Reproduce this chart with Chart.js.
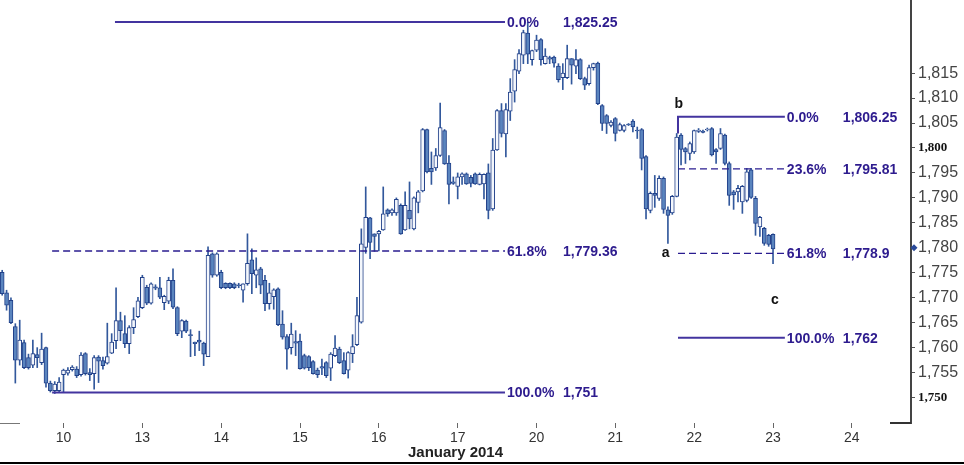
<!DOCTYPE html>
<html>
<head>
<meta charset="utf-8">
<script src="https://cdn.jsdelivr.net/npm/chart.js@4"></script>
<style>
html, body { margin: 0; padding: 0; background: #fff; }
#wrap { width: 964px; height: 465px; position: relative; }
</style>
</head>
<body>
<div id="wrap"><canvas id="chart-1"></canvas></div>
<script>
// S&P futures, hourly candles, January 2014
const dayLabels = ['10', '13', '14', '15', '16', '17', '20', '21', '22', '23', '24'];
const slotsPerDay = 18;
const firstDaySlot = 14;
const nSlots = 208;

const open = [
  1775.1, 1771, 1769.5, 1764.2, 1757.5, 1761, 1758, 1756.5, 1758.6, 1757,
  1760, 1752.9, 1751.4, 1751.4, 1754.6, 1754.9, 1755.6, 1755.7, 1754.6, 1758.8,
  1755, 1754.8, 1758.1, 1757.4, 1756.9, 1758.9, 1761.4, 1765.4, 1762.8, 1760.8,
  1764, 1766.2, 1768, 1772.1, 1768.9, 1772.2, 1772, 1769, 1769.3, 1773.5,
  1768, 1763.3, 1765.3, 1762.6, 1761.1, 1761.5, 1760.9, 1758.2, 1778.8, 1774.5,
  1775.1, 1772.9, 1772.9, 1772.8, 1772.5, 1771.5, 1772.8, 1777.6, 1774.5, 1775.8,
  1773.5, 1768.8, 1770.2, 1771.8, 1764.7, 1762.2, 1760, 1761.2, 1761.3, 1758.4,
  1758.2, 1757.2, 1755.5, 1756.2, 1757, 1755.9, 1758.4, 1759.7, 1757.4, 1755.5,
  1758.8, 1760.6, 1765.1, 1780.1, 1786, 1782.8, 1782.8, 1783.6, 1787.6, 1787,
  1787, 1788.5, 1783.6, 1787.5, 1783.8, 1789.1, 1791.4, 1803.7, 1795.9, 1796,
  1798.5, 1803.5, 1797, 1793.2, 1792.3, 1794.2, 1794.8, 1794.1, 1794.8, 1792.7,
  1792.8, 1795, 1787.8, 1799.6, 1807.5, 1802.8, 1807.4, 1811.4, 1815.4, 1818.6,
  1823, 1817.7, 1819.6, 1821.7, 1816.9, 1818.1, 1818.2, 1816.4, 1814.1, 1814.1,
  1817.9, 1816.4, 1817.7, 1813.9, 1812.9, 1816.1, 1817, 1808.5, 1806.5, 1804.5,
  1805.9, 1803.5, 1803.5, 1804.7, 1805.4, 1803.6, 1803.7, 1798.3, 1787.5, 1790.9,
  1789.9, 1793.9, 1787.6, 1787, 1790.3, 1802.6, 1799.9, 1798.9, 1799.2, 1803.3,
  1803.4, 1803.6, 1803.9, 1799.7, 1799.9, 1802.6, 1796.9, 1791.2, 1791.2, 1789.2,
  1789.5, 1795.6, 1789.9, 1784.2, 1783.9, 1782.5, 1782.7
];
const high = [
  1775.5, 1771.5, 1770, 1764.8, 1765.5, 1761.5, 1758.7, 1761.5, 1760, 1762.9,
  1760.1, 1753.3, 1753.2, 1754, 1755.7, 1756, 1756.4, 1756.2, 1759, 1759,
  1755.8, 1758.4, 1758.4, 1758.1, 1764.9, 1762.8, 1772, 1767.1, 1766.4, 1764.4,
  1768, 1770.1, 1774.5, 1772.5, 1773, 1772.6, 1774.1, 1770.5, 1774.1, 1775.8,
  1768.2, 1765.6, 1765.5, 1763.6, 1761.1, 1763.3, 1761.1, 1780.2, 1779, 1779,
  1775.5, 1773, 1773, 1773, 1772.9, 1772.8, 1782.8, 1779.8, 1778, 1776.1,
  1774.5, 1772.9, 1771.8, 1772, 1767.4, 1762.6, 1764.9, 1763.4, 1762.7, 1758.7,
  1758.4, 1757.4, 1755.9, 1757.7, 1757.2, 1759, 1762.4, 1760.1, 1759, 1759.2,
  1762.6, 1770.1, 1783.8, 1792.2, 1786.1, 1782.8, 1783.5, 1792.2, 1787.8, 1787.8,
  1790, 1788.8, 1791.2, 1793.2, 1790.2, 1791.5, 1803.9, 1803.8, 1799.2, 1799.9,
  1809, 1803.7, 1798.5, 1794.2, 1795, 1795, 1795, 1794.5, 1795, 1795,
  1794.8, 1796.8, 1801.9, 1807.7, 1808.9, 1808.9, 1813.9, 1817.7, 1819.7, 1823.6,
  1825.2, 1819.6, 1822.6, 1821.9, 1819.9, 1818.4, 1818.4, 1816.9, 1816.9, 1820.6,
  1817.9, 1819.7, 1817.9, 1814.2, 1816.6, 1817, 1817.2, 1808.7, 1806.7, 1805.5,
  1806.1, 1805, 1804.7, 1804.9, 1805.7, 1804.2, 1803.9, 1798.5, 1791.2, 1794.5,
  1794.4, 1794.2, 1788.2, 1790.5, 1802.9, 1802.9, 1800.1, 1801.2, 1803.6, 1803.9,
  1803.6, 1804, 1804.1, 1799.9, 1803.9, 1802.8, 1797.2, 1791.5, 1792.5, 1792.5,
  1795.9, 1795.9, 1790.3, 1786.3, 1784.1, 1782.7, 1782.8
];
const low = [
  1770.5, 1767.5, 1764.8, 1752.9, 1756.5, 1755.8, 1755.7, 1756, 1756, 1756.6,
  1752.1, 1751.1, 1750.8, 1751, 1751, 1754.5, 1755.3, 1754, 1754.3, 1754.5,
  1753.4, 1751.7, 1753, 1755.7, 1756.7, 1758.8, 1759.8, 1761.4, 1760, 1758.8,
  1762.8, 1766, 1767.8, 1768.6, 1768.7, 1771.6, 1769.8, 1767.6, 1768.8, 1767.8,
  1762.4, 1762, 1763, 1758.2, 1758.4, 1759.4, 1756.4, 1758.2, 1774.1, 1774.3,
  1771.8, 1771.8, 1771.8, 1771.8, 1772, 1769.1, 1772.5, 1770.8, 1772, 1770.8,
  1767.4, 1767.7, 1767.7, 1764.4, 1761.7, 1755.7, 1758.7, 1758.4, 1755.7, 1755.7,
  1755.4, 1754.7, 1754, 1754.6, 1754, 1753.4, 1758.2, 1756.8, 1754.7, 1753.9,
  1757, 1760.4, 1764.9, 1778.9, 1777.8, 1779.3, 1779.4, 1783.5, 1786.3, 1786.5,
  1786.5, 1782.7, 1783.5, 1783.8, 1783.6, 1787, 1791.2, 1795, 1792.7, 1795.5,
  1798.3, 1796.7, 1788.8, 1792.7, 1789.8, 1792.7, 1792.7, 1792.2, 1792.7, 1792.6,
  1789.8, 1785.8, 1787.5, 1799.5, 1802.2, 1798.2, 1805.5, 1809.2, 1814.9, 1816.9,
  1816.9, 1816.6, 1819.3, 1816.6, 1816.8, 1816.9, 1816.2, 1813.2, 1811.7, 1813.9,
  1812.8, 1814.9, 1813.7, 1811.7, 1812.6, 1815.6, 1808.7, 1803.5, 1802.9, 1804.2,
  1801.4, 1803.4, 1803.2, 1804.5, 1803.2, 1801.9, 1795.6, 1785.8, 1787, 1788.1,
  1789.5, 1786.9, 1780.9, 1786.7, 1790.2, 1796.6, 1796.9, 1797.6, 1798.9, 1803.1,
  1803, 1803.4, 1798.4, 1796.9, 1799.7, 1796.6, 1788.5, 1787.7, 1789.2, 1786.9,
  1789.2, 1789.9, 1782.5, 1782.3, 1780.5, 1780.3, 1776.8
];
const close = [
  1770.8, 1768.5, 1765, 1757.5, 1761.5, 1756, 1756, 1758.8, 1758, 1759.7,
  1752.9, 1751.4, 1752.7, 1753.1, 1755.5, 1755.5, 1756.1, 1754.4, 1758.5, 1754.8,
  1754.6, 1758, 1757.3, 1756.4, 1758.2, 1761.1, 1765.4, 1763.4, 1760.8, 1764,
  1765.6, 1769.4, 1774.1, 1768.9, 1772.8, 1771.9, 1770.1, 1770.3, 1773.5, 1768.1,
  1762.8, 1765.4, 1763.3, 1762.4, 1760.8, 1761.1, 1758.7, 1778.5, 1774.5, 1778.8,
  1772, 1772, 1772, 1772, 1772.4, 1772.8, 1776.9, 1774.8, 1775.6, 1772.5,
  1768.8, 1771, 1771.6, 1764.6, 1762.1, 1759.7, 1762.7, 1760.9, 1755.8, 1755.9,
  1756, 1754.8, 1754.6, 1755.9, 1754.4, 1758.7, 1759.9, 1757, 1754.8, 1759,
  1760.2, 1766.4, 1780.8, 1786.1, 1781.1, 1782.3, 1783.3, 1786.8, 1786.8, 1787.6,
  1789.7, 1782.8, 1788.5, 1785.8, 1790, 1791.2, 1803.7, 1795.2, 1795.2, 1798.5,
  1804.1, 1796.8, 1792.7, 1792.9, 1794.2, 1794.8, 1792.8, 1792.9, 1792.8, 1794.7,
  1794.7, 1787.5, 1799.6, 1807.5, 1802.9, 1807.7, 1811.2, 1815.7, 1818.9, 1823.1,
  1818.8, 1819.5, 1821.6, 1817.7, 1818.4, 1817.8, 1817, 1813.7, 1815, 1817.9,
  1816.6, 1817.7, 1813.9, 1812.6, 1816.1, 1816.9, 1808.9, 1804.9, 1804.9, 1805.2,
  1802.9, 1804.7, 1804.5, 1804.6, 1804.2, 1803.4, 1797.9, 1787.8, 1790.9, 1790.5,
  1793.9, 1787.7, 1786.5, 1790.3, 1802.2, 1799.7, 1799.2, 1800.9, 1803.5, 1803.6,
  1803.1, 1803.8, 1798.6, 1799.2, 1802.9, 1796.9, 1790.5, 1790.6, 1791.9, 1792.3,
  1795.2, 1790.1, 1784.9, 1786.1, 1780.9, 1780.7, 1779.8
];

// Fibonacci retracements (slot = position on the time axis)
const fibLeftPct = ['0.0%', '61.8%', '100.0%'];
const fibLeftPrice = [1825.25, 1779.36, 1751];
const fibLeftStart = [25.75, 11.4, 11.4];
const fibLeftEnd = 114.8;

const fibRightPct = ['0.0%', '23.6%', '61.8%', '100.0%'];
const fibRightPrice = [1806.25, 1795.81, 1778.9, 1762];
const fibRightStart = 154.3;
const fibRightEnd = 178.7;
const fibRightAnchor = 1802.9; // top of candle under point b

const waveLabels = ['a', 'b', 'c'];
const waveSlot = [151.5, 154.5, 176.4];
const wavePrice = [1778.96, 1808.8, 1769.5];

const lastMarker = 1780;

const daySlots = dayLabels.map((d, k) => firstDaySlot + k * slotsPerDay);

const fibColor = '#43349f';
const textColor = '#2d1b8e';

function fibDataset(from, to, price, pct, anchor) {
  const dashed = pct === '23.6%' || pct === '61.8%';
  const pts = anchor ? [{x: from, y: anchor}, {x: from, y: price}, {x: to, y: price}]
                     : [{x: from, y: price}, {x: to, y: price}];
  return {
    type: 'line',
    data: pts,
    borderColor: dashed ? '#2a1c90' : fibColor,
    borderWidth: dashed ? 1.3 : 2,
    borderDash: dashed ? [7, 4] : [],
    pointRadius: 0,
    fill: false,
    order: 1
  };
}

const fibSets = [];
fibLeftPct.forEach((p, i) => fibSets.push(fibDataset(fibLeftStart[i], fibLeftEnd, fibLeftPrice[i], p)));
fibRightPct.forEach((p, i) => fibSets.push(fibDataset(fibRightStart, fibRightEnd, fibRightPrice[i], p, i === 0 ? fibRightAnchor : null)));

const fmt = v => v.toLocaleString('en-US');

const annotations = {
  id: 'annotations',
  afterDatasetsDraw(chart) {
    const c = chart.ctx;
    const x = chart.scales.x;
    const y = chart.scales.y;
    c.save();
    c.font = 'bold 14px "Liberation Sans", Arial, sans-serif';
    c.fillStyle = textColor;
    c.textBaseline = 'middle';
    c.textAlign = 'left';
    const drawSet = (pcts, prices, end) => {
      pcts.forEach((p, i) => {
        const px = x.getPixelForValue(end) + 2;
        const py = y.getPixelForValue(prices[i]) + 1;
        c.fillText(p, px, py);
        c.fillText(fmt(prices[i]), px + 56, py);
      });
    };
    drawSet(fibLeftPct, fibLeftPrice, fibLeftEnd);
    drawSet(fibRightPct, fibRightPrice, fibRightEnd);

    c.fillStyle = '#111';
    c.textAlign = 'center';
    waveLabels.forEach((t, i) => {
      c.fillText(t, x.getPixelForValue(waveSlot[i]), y.getPixelForValue(wavePrice[i]));
    });

    // last price marker on the axis
    const ax = chart.chartArea.right + 3;
    const ay = y.getPixelForValue(lastMarker);
    c.fillStyle = '#2a4a9a';
    c.beginPath();
    c.moveTo(ax, ay - 3.5); c.lineTo(ax + 3.5, ay); c.lineTo(ax, ay + 3.5); c.lineTo(ax - 3.5, ay);
    c.closePath(); c.fill();

    // frame bits
    const b = chart.chartArea.bottom;
    c.strokeStyle = '#777';
    c.lineWidth = 1;
    c.beginPath(); c.moveTo(0, b + 0.5); c.lineTo(20, b + 0.5); c.stroke();
    c.strokeStyle = '#333';
    c.lineWidth = 2;
    c.beginPath(); c.moveTo(chart.chartArea.right - 21, b); c.lineTo(chart.chartArea.right, b); c.stroke();
    c.strokeStyle = '#000';
    c.beginPath(); c.moveTo(0, 463); c.lineTo(chart.width, 463); c.stroke();
    c.restore();
  }
};

const ctx = document.getElementById('chart-1');
new Chart(ctx, {
  type: 'bar',
  data: {
    datasets: [
      {
        label: 'range',
        data: low.map((l, i) => ({x: i, y: [l, high[i]]})),
        backgroundColor: '#32589c',
        barThickness: 1,
        grouped: false,
        order: 3
      },
      {
        label: 'body',
        data: open.map((o, i) => ({x: i, y: [o, close[i]]})),
        backgroundColor: c => close[c.dataIndex] >= open[c.dataIndex] ? '#f4f7fc' : '#5a84be',
        borderColor: '#22418a',
        borderWidth: 1,
        borderSkipped: false,
        barThickness: 4,
        minBarLength: 1,
        grouped: false,
        order: 2
      },
      ...fibSets
    ]
  },
  options: {
    responsive: true,
    maintainAspectRatio: false,
    animation: false,
    layout: { padding: 0 },
    plugins: {
      legend: { display: false },
      tooltip: { enabled: false }
    },
    scales: {
      x: {
        type: 'linear',
        offset: false,
        min: -0.5,
        max: nSlots - 0.5,
        border: { display: false },
        grid: {
          drawOnChartArea: false,
          offset: false,
          tickLength: 5,
          color: '#666'
        },
        afterBuildTicks: s => { s.ticks = daySlots.map(v => ({value: v})); },
        ticks: {
          autoSkip: false,
          maxRotation: 0,
          padding: 2,
          color: '#333',
          font: { family: '"Liberation Sans", Arial, sans-serif', size: 14 },
          callback: v => dayLabels[daySlots.indexOf(v)]
        },
        title: {
          display: true,
          text: 'January 2014',
          color: '#222',
          font: { family: '"Liberation Sans", Arial, sans-serif', size: 15, weight: 'bold' },
          padding: { top: 0, bottom: 3 }
        },
        afterFit: s => { s.height = 42; s.paddingLeft = 0; s.paddingRight = 0; }
      },
      y: {
        position: 'right',
        min: 1744.9,
        max: 1829.65,
        border: { display: true, color: '#444', width: 2 },
        grid: {
          drawOnChartArea: false,
          tickLength: 4,
          color: c => (c.tick && c.tick.value >= 1750 && c.tick.value <= 1815) ? '#555' : 'rgba(0,0,0,0)'
        },
        ticks: {
          stepSize: 5,
          includeBounds: false,
          padding: 3,
          color: c => (c.tick && c.tick.value % 50 === 0) ? '#111' : '#444',
          font: c => (c.tick && c.tick.value % 50 === 0)
            ? { family: '"Liberation Serif", "Times New Roman", serif', size: 13, weight: 'bold' }
            : { family: '"Liberation Sans", Arial, sans-serif', size: 16 },
          callback: v => (v >= 1750 && v <= 1815) ? fmt(v) : ''
        },
        afterFit: s => { s.width = 53; s.paddingTop = 0; s.paddingBottom = 0; }
      }
    }
  },
  plugins: [annotations]
});
</script>
</body>
</html>
